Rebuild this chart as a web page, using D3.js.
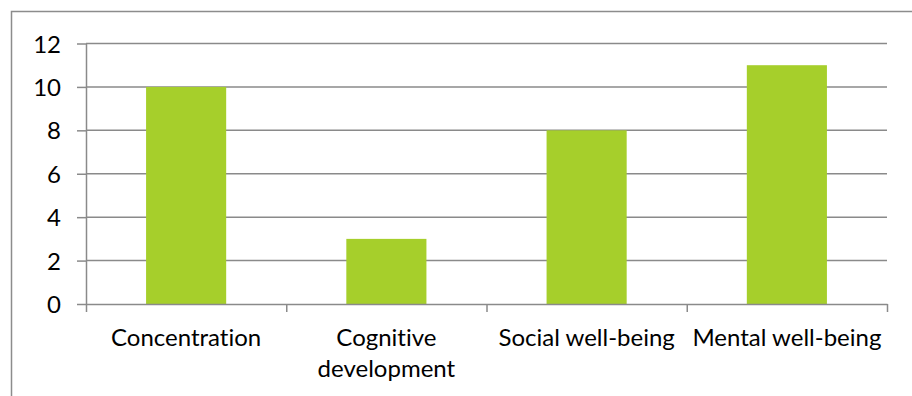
<!DOCTYPE html>
<html>
<head>
<meta charset="utf-8">
<script src="https://cdn.jsdelivr.net/npm/d3@7"></script>
<style>
  html, body { margin: 0; padding: 0; background: #fff; }
  svg { display: block; }
  text { font-family: Lato, "Noto Sans", sans-serif; fill: #000; font-variant-ligatures: none; font-feature-settings: "liga" 0; }
</style>
</head>
<body>
<svg id="chart" width="912" height="396"></svg>
<script>
// Chart data
const categories = ["Concentration", "Cognitive development", "Social well-being", "Mental well-being"];
const values = [10, 3, 8, 11];
const yTicks = [0, 2, 4, 6, 8, 10, 12];

const W = 912, H = 396;
const plot = { left: 86, right: 887, top: 43.5, bottom: 304 };
const fontSize = 24;
const textScaleX = 1;

const svg = d3.select("#chart");

// outer frame (runs past the right and bottom edges)
svg.append("rect")
  .attr("x", 11.5).attr("y", 11.5)
  .attr("width", W + 20).attr("height", H + 20)
  .attr("fill", "none").attr("stroke", "#8c8c8c").attr("stroke-width", 1.5);

const y = d3.scaleLinear().domain([0, 12]).range([plot.bottom, plot.top]);
const xCat = d3.scaleBand().domain(categories).range([plot.left, plot.right]).padding(0);
const xBar = d3.scaleBand().domain(categories).range([plot.left, plot.right])
  .paddingInner(0.6).paddingOuter(0.3);
const xEdge = d3.scaleLinear().domain([0, categories.length]).range([plot.left, plot.right]);

// horizontal gridlines
svg.append("g").selectAll("line").data(yTicks.filter(d => d > 0)).join("line")
  .attr("x1", plot.left).attr("x2", plot.right)
  .attr("y1", d => y(d)).attr("y2", d => y(d))
  .attr("stroke", "#8a8a8a").attr("stroke-width", 1.5);

// bars
svg.append("g").selectAll("rect").data(values).join("rect")
  .attr("x", (d, i) => xBar(categories[i]))
  .attr("width", xBar.bandwidth())
  .attr("y", d => y(d))
  .attr("height", d => y(0) - y(d))
  .attr("fill", "#a6cf2b");

// y axis
const yAxis = svg.append("g")
  .attr("transform", `translate(${plot.left},0)`)
  .call(d3.axisLeft(y).tickValues(yTicks).tickSize(9).tickPadding(16).tickSizeOuter(0));
yAxis.select(".domain").attr("stroke", "#8a8a8a").attr("stroke-width", 1.5);
yAxis.selectAll(".tick line").attr("stroke", "#8a8a8a").attr("stroke-width", 1.5);
yAxis.selectAll(".tick text")
  .attr("font-size", fontSize).attr("font-family", null).attr("fill", "#000")
  .attr("dy", "0.36em");

// x axis line with category boundary ticks
const xAxis = svg.append("g")
  .attr("transform", `translate(0,${plot.bottom})`)
  .call(d3.axisBottom(xEdge).tickValues(d3.range(categories.length + 1)).tickSize(8).tickFormat("").tickSizeOuter(0));
xAxis.select(".domain").attr("stroke", "#8a8a8a").attr("stroke-width", 1.5);
xAxis.selectAll(".tick line").attr("stroke", "#8a8a8a").attr("stroke-width", 1.5);

// category labels, wrapped to the category width
const lineHeight = 31;
const labels = svg.append("g").selectAll("text").data(categories).join("text")
  .attr("text-anchor", "middle")
  .attr("font-size", fontSize)
  .attr("transform", d => `translate(${xCat(d) + xCat.bandwidth() / 2},346) scale(${textScaleX},1)`);

labels.each(function(d) {
  const t = d3.select(this);
  const words = d.split(" ");
  const maxW = xCat.bandwidth() / textScaleX;
  let line = [];
  let lines = [];
  let probe = t.append("tspan");
  words.forEach(w => {
    const trial = line.concat(w).join(" ");
    probe.text(trial);
    if (probe.node().getComputedTextLength() > maxW && line.length) {
      lines.push(line.join(" "));
      line = [w];
    } else {
      line.push(w);
    }
  });
  lines.push(line.join(" "));
  probe.remove();
  lines.forEach((s, i) => {
    t.append("tspan").attr("x", 0).attr("y", i * lineHeight).text(s);
  });
});
</script>
</body>
</html>
